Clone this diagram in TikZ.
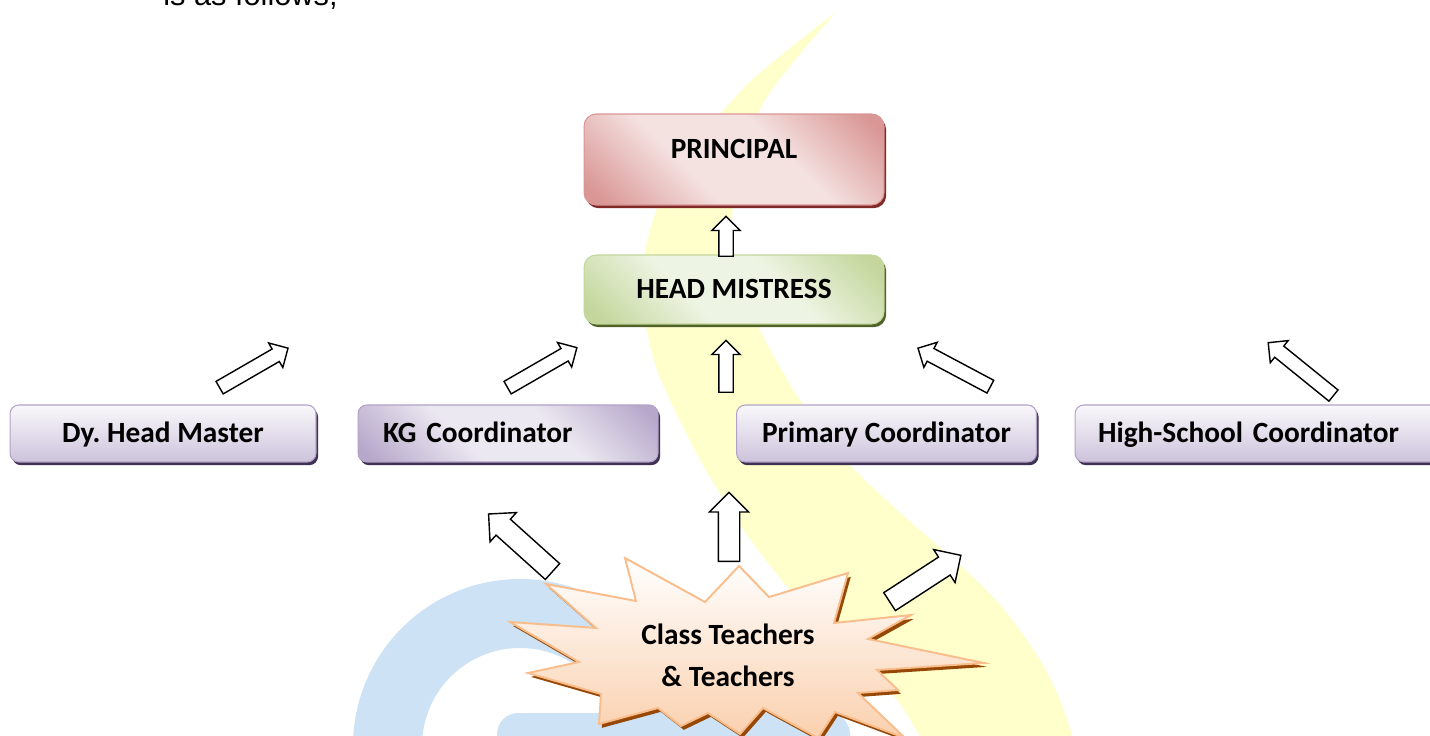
\documentclass[tikz,border=0pt]{standalone}
\usepackage{fontspec}
\setmainfont{Carlito}
\newfontfamily\introfont{Liberation Sans}
\usetikzlibrary{shapes.arrows,shadows}
\frenchspacing

\definecolor{prinlight}{HTML}{F4E2E1}
\definecolor{prindark}{HTML}{D99694}
\definecolor{prinshade}{HTML}{7F2A28}
\definecolor{hmlight}{HTML}{EEF4E3}
\definecolor{hmdark}{HTML}{C3D69B}
\definecolor{hmshade}{HTML}{4F6228}
\definecolor{coordlight}{HTML}{F9F8FB}
\definecolor{coorddark}{HTML}{CDC3DC}
\definecolor{coorddeep}{HTML}{B7A8CB}
\definecolor{coordmid}{HTML}{ECE8F1}
\definecolor{coordedge}{HTML}{B3A2C7}
\definecolor{coordshade}{HTML}{3F3151}
\definecolor{starpeach}{HTML}{FAD0AE}
\definecolor{starline}{HTML}{F9BD8C}
\definecolor{starshade}{HTML}{984806}
\definecolor{swoosh}{HTML}{FFFFCC}
\definecolor{wmark}{RGB}{205,227,245}

\pgfdeclarehorizontalshading[prindark,prinlight]{redglow}{100bp}{color(0bp)=(prindark);
  color(18bp)=(prindark); color(40bp)=(prinlight); color(60bp)=(prinlight);
  color(82bp)=(prindark); color(100bp)=(prindark)}
\pgfdeclarehorizontalshading[hmdark,hmlight]{greenglow}{100bp}{color(0bp)=(hmdark);
  color(18bp)=(hmdark); color(40bp)=(hmlight); color(60bp)=(hmlight);
  color(82bp)=(hmdark); color(100bp)=(hmdark)}
\pgfdeclarehorizontalshading[coorddeep,coordmid]{kgglow}{100bp}{color(0bp)=(coorddeep);
  color(18bp)=(coorddeep); color(40bp)=(coordmid); color(60bp)=(coordmid);
  color(82bp)=(coorddeep); color(100bp)=(coorddeep)}

\tikzset{
  orgbox/.style={rectangle, rounded corners=5pt, line width=0.6pt, inner sep=0pt,
    minimum width=6cm, minimum height=1.14cm, text height=10.75pt, text depth=0pt,
    font=\bfseries\fontsize{16.7}{20}\selectfont},
  redbox/.style={orgbox, rounded corners=7pt, draw=prindark, minimum height=1.82cm,
    text depth=12.4pt, shading=redglow, shading angle=45,
    general shadow={fill=prinshade, shadow xshift=1.2pt, shadow yshift=-1.8pt}},
  greenbox/.style={orgbox, rounded corners=7pt, draw=hmdark, minimum height=1.38cm,
    shading=greenglow, shading angle=45,
    general shadow={fill=hmshade, shadow xshift=1.2pt, shadow yshift=-1.8pt}},
  coordbox/.style={orgbox, draw=coordedge, top color=coordlight, bottom color=coorddark,
    general shadow={fill=coordshade, shadow xshift=1.2pt, shadow yshift=-1.8pt}},
  kgbox/.style={coordbox, shading=kgglow, shading angle=45},
  blockarrow/.style={single arrow, draw=black, fill=white, line width=0.8pt,
    inner xsep=0pt, inner ysep=0.13cm, minimum width=0.54cm,
    single arrow head extend=0.14cm, anchor=tail},
  bigarrow/.style={blockarrow, inner ysep=0.2cm, minimum width=0.76cm,
    single arrow head extend=0.18cm},
  starburst/.style={draw=starline, line width=1.1pt, line join=miter,
    top color=white, bottom color=starpeach,
    general shadow={fill=starshade, shadow xshift=1.6pt, shadow yshift=-2.2pt}}
}

\begin{document}
\begin{tikzpicture}[x=0.02cm,y=-0.02cm]
\useasboundingbox (0,0) rectangle (1430,736);
\clip (0,0) rectangle (1430,736);

% background
\fill[swoosh] plot[smooth] coordinates {(836,12) (790,48) (752,80) (722,112) (690,150)
  (665,190) (650,230) (642,275) (645,320) (656,367) (676,413) (703,465) (740,525)
  (790,590) (850,650) (897,700) (925,745)}
  -- plot[smooth] coordinates {(1075,745) (1060,700) (1037,655) (1000,605) (960,565)
  (905,517) (850,465) (800,400) (765,340) (742,290) (732,240) (735,190) (748,140)
  (765,100) (795,60) (836,12)} -- cycle;
\fill[wmark, even odd rule] (520,746) circle[radius=167] (520,746) circle[radius=98];
\fill[wmark, rounded corners=12pt] (497,713) rectangle (850,790);

\node[font=\introfont\fontsize{17.5}{20}\selectfont, anchor=base west, inner sep=0pt]
  (intro) at (163,6) {is as follows;};

% boxes
\node[redbox] (principal) at (734,159.5) {PRINCIPAL};
\node[greenbox] (headmistress) at (734,289.5) {HEAD MISTRESS};
\node[coordbox, minimum width=6.12cm] (dyhead) at (163,433.5) {Dy. Head Master};
\node[kgbox, text width=5cm, align=left] (kgcoord) at (508,433.5) {KG Coordinator};
\node[coordbox] (primcoord) at (886.5,433.5) {Primary Coordinator};
\node[coordbox, minimum width=7.4cm, text width=6.48cm, align=left]
  (hscoord) at (1260,433.5) {High-School Coordinator};

% arrows
\node[blockarrow, minimum height=0.8cm, rotate=90] (toprincipal) at (726,257) {};
\node[blockarrow, minimum height=1.04cm, rotate=90] (tohead) at (726,393) {};
\node[blockarrow, minimum height=1.58cm, rotate=30] (fromdy) at (219,388) {};
\node[blockarrow, minimum height=1.6cm, rotate=30] (fromkg) at (507,388) {};
\node[blockarrow, minimum height=1.64cm, rotate=152] (fromprim) at (991,387) {};
\node[blockarrow, minimum height=1.68cm, rotate=141] (fromhs) at (1334,396) {};

\node[bigarrow, minimum height=1.38cm, rotate=90] (toprim) at (729,562) {};
\node[bigarrow, minimum height=1.72cm, rotate=138] (tokg) at (553,572) {};
\node[bigarrow, minimum height=1.7cm, rotate=33] (tohs) at (889,602) {};

% teachers
\path[starburst] (625,558) -- (705,602) -- (739,566) -- (769,597) -- (848,573)
  -- (834,623) -- (911,615) -- (868,639) -- (984,663) -- (877,670) -- (898,690)
  -- (858,693) -- (905,738) -- (835,712) -- (818,738) -- (763,708) -- (740,734)
  -- (708,713) -- (681,726) -- (658,708) -- (599,724) -- (601,694) -- (528,673)
  -- (579,662) -- (510,622) -- (596,628) -- (546,584) -- (636,601) -- cycle;
\node[font=\bfseries\fontsize{16.7}{24}\selectfont, align=center]
  (teachers) at (728,655) {Class Teachers\\\& Teachers};
\end{tikzpicture}
\end{document}
